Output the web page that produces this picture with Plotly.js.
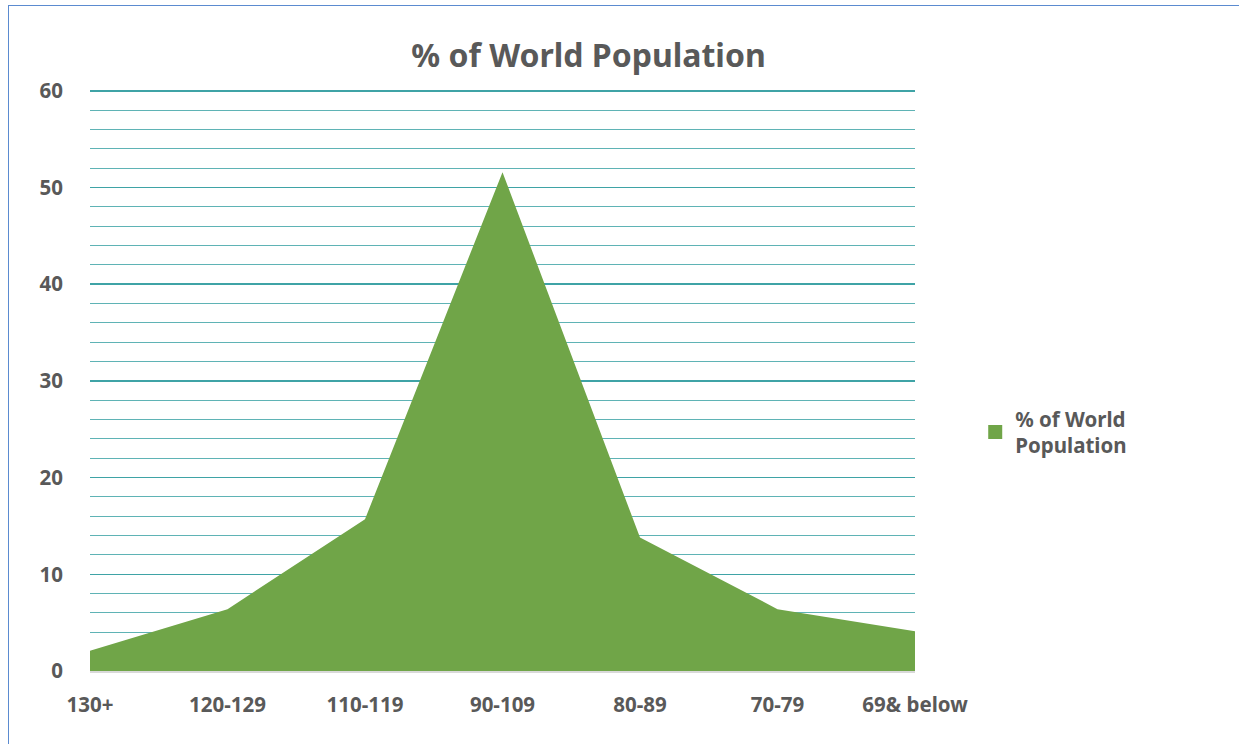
<!DOCTYPE html>
<html>
<head>
<meta charset="utf-8">
<script src="https://cdn.plot.ly/plotly-3.0.1.min.js"></script>
<style>
html,body{margin:0;padding:0;background:#fff;}
#wrap{position:relative;width:1239px;height:744px;overflow:hidden;}
#frame{position:absolute;left:8px;top:5px;width:1240px;height:760px;border:1px solid #5b8bd0;box-sizing:border-box;pointer-events:none;}
#chart{position:absolute;left:0;top:0;width:1239px;height:744px;}
</style>
</head>
<body>
<div id="wrap"><div id="chart"></div><div id="frame"></div></div>
<script>
var categories = ["130+", "120-129", "110-119", "90-109", "80-89", "70-79", "69& below"];
var worldPopulation = [2.1, 6.4, 15.7, 51.6, 13.8, 6.4, 4.1];
var seriesName = "% of World<br>Population";
var yTicks = [0, 10, 20, 30, 40, 50, 60];

var areaTrace = {
  type: "scatter",
  x: categories,
  y: worldPopulation,
  name: seriesName,
  mode: "none",
  fill: "tozeroy",
  fillcolor: "#70a548",
  showlegend: false
};
var legendTrace = {
  type: "scatter",
  x: [null], y: [null],
  name: seriesName,
  mode: "markers",
  marker: {symbol: "square", size: 14, color: "#70a548"},
  showlegend: true
};

var boldFont = {size: 20.5, color: "#595959", family: "Noto Sans, sans-serif", weight: "bold"};

var layout = {
  width: 1239, height: 744,
  paper_bgcolor: "rgba(0,0,0,0)",
  plot_bgcolor: "rgba(0,0,0,0)",
  margin: {l: 90, r: 324, t: 89, b: 73},
  font: {family: "Noto Sans, Open Sans, sans-serif", color: "#595959"},
  title: {text: "<b>% of World Population</b>", x: 0.475, xanchor: "center", y: 0.925, yanchor: "middle",
          font: {size: 32, color: "#595959", family: "Noto Sans, sans-serif"}},
  xaxis: {
    type: "category", range: [0, 6], showgrid: false, zeroline: false,
    showline: true, linecolor: "#d9d9d9", linewidth: 2,
    ticks: "outside", ticklen: 14, tickcolor: "rgba(0,0,0,0)",
    tickfont: boldFont
  },
  yaxis: {
    range: [0, 60.2], tickvals: yTicks, ticktext: yTicks.map(function(v){return "<b>" + v + "</b>";}),
    showgrid: true, gridcolor: "#3fa3a6", gridwidth: 1.6,
    zeroline: false, showline: false,
    ticks: "outside", ticklen: 22, tickcolor: "rgba(0,0,0,0)",
    tickfont: boldFont,
    minor: {dtick: 2, tick0: 0, showgrid: true, gridcolor: "#5fb3b5", gridwidth: 1}
  },
  showlegend: true,
  legend: {x: 1.073, xanchor: "left", y: 0.41, yanchor: "middle", bgcolor: "rgba(0,0,0,0)",
           font: boldFont, itemwidth: 30}
};

Plotly.newPlot("chart", [areaTrace, legendTrace], layout, {displayModeBar: false, staticPlot: true});
</script>
</body>
</html>
